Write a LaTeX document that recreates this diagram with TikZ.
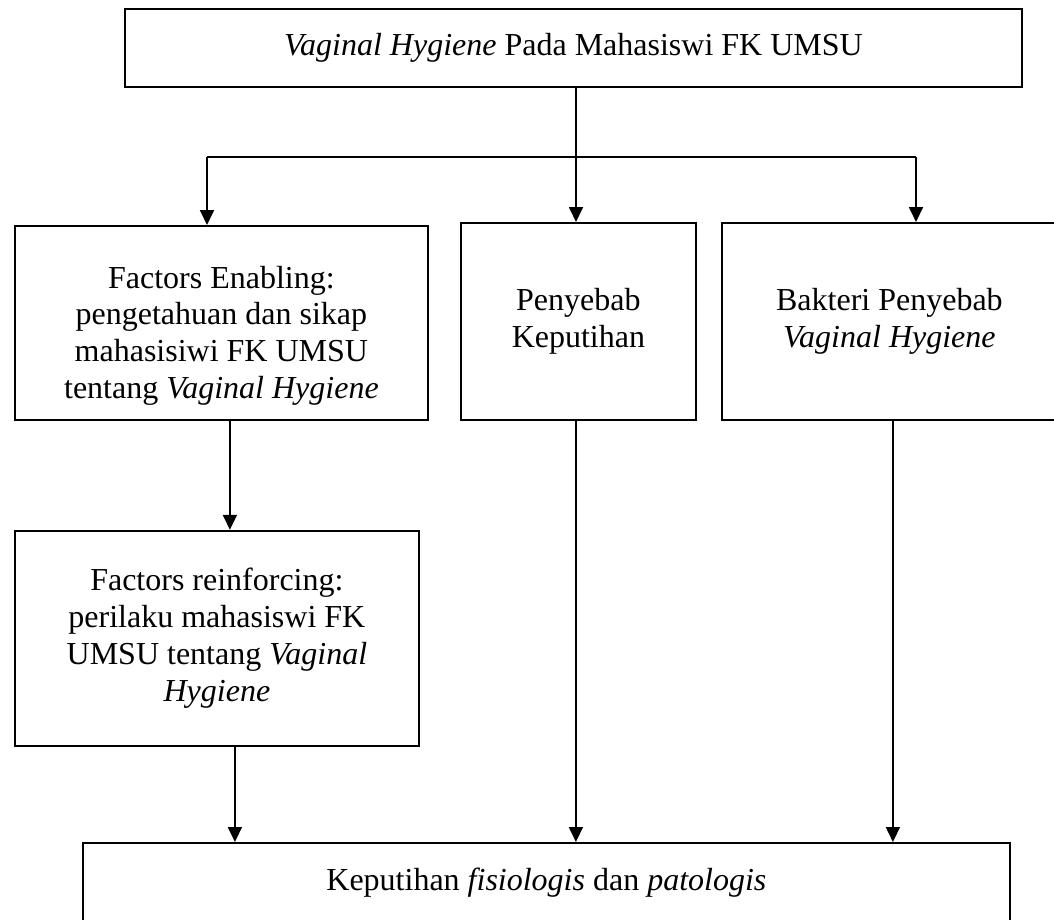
\documentclass[tikz,border=0pt]{standalone}
\usepackage{fontspec}
\setmainfont{Liberation Serif}
\usetikzlibrary{arrows.meta}
\usetikzlibrary{positioning}
\tikzset{
    box/.style={
           rectangle,
           draw=black, line width=1.8pt,
           inner sep=0pt,
           align=center,
           font=\fontsize{32}{36.7}\selectfont,
           },
}
\tikzset{
    flow/.style={
           line width=1.8pt,
           -{Triangle[length=15pt,width=14pt]},
           },
}

\begin{document}
\begin{tikzpicture}[x=1pt,y=1pt]
\useasboundingbox (0,0) rectangle (1054,-919);
\node[box,minimum width=897pt,minimum height=78pt](judul) at (573.5,-48){\textit{Vaginal Hygiene} Pada Mahasiswi FK UMSU};
\node[box,minimum width=413pt,minimum height=194pt,anchor=north west](enabling) at (14,-225){\raisebox{-13pt}[\height][\depth]{\begin{tabular}{@{}c@{}}Factors Enabling:\\pengetahuan dan sikap\\mahasisiwi FK UMSU\\tentang \textit{Vaginal Hygiene}\end{tabular}}};
\node[box,minimum width=235pt,minimum height=197pt,anchor=north west](penyebab) at (460,-222){Penyebab\\Keputihan};
\node[box,minimum width=335pt,minimum height=197pt,anchor=north west](bakteri) at (721,-222){Bakteri Penyebab\\\textit{Vaginal Hygiene}};
\node[box,minimum width=404pt,minimum height=215pt,below=109pt of enabling.south west,anchor=north west](reinforcing){Factors reinforcing:\\perilaku mahasiswi FK\\UMSU tentang \textit{Vaginal}\\\textit{Hygiene}};
\node[box,minimum width=927pt,minimum height=80pt,anchor=north west](keputihan) at (82,-842){Keputihan \textit{fisiologis} dan \textit{patologis}};
% cabang dari judul
\coordinate (cabang) at (576,-157);
\coordinate (kiri) at (207,-157);
\coordinate (kanan) at (916,-157);
\draw[line width=1.8pt] (cabang |- judul.south) -- (cabang);
\draw[line width=1.8pt] (kiri) -- (kanan);
\draw[flow] (kiri) -- (kiri |- enabling.north);
\draw[flow] (cabang) -- (cabang |- penyebab.north);
\draw[flow] (kanan) -- (kanan |- bakteri.north);
% ke kotak bawah
\draw[flow] ([xshift=8.5pt]enabling.south) -- ([xshift=8.5pt]enabling.south |- reinforcing.north);
\draw[flow] ([xshift=18pt]reinforcing.south) -- ([xshift=18pt]reinforcing.south |- keputihan.north);
\draw[flow] ([xshift=-2.5pt]penyebab.south) -- ([xshift=-2.5pt]penyebab.south |- keputihan.north);
\draw[flow] ([xshift=3.5pt]bakteri.south) -- ([xshift=3.5pt]bakteri.south |- keputihan.north);
\end{tikzpicture}
\end{document}
